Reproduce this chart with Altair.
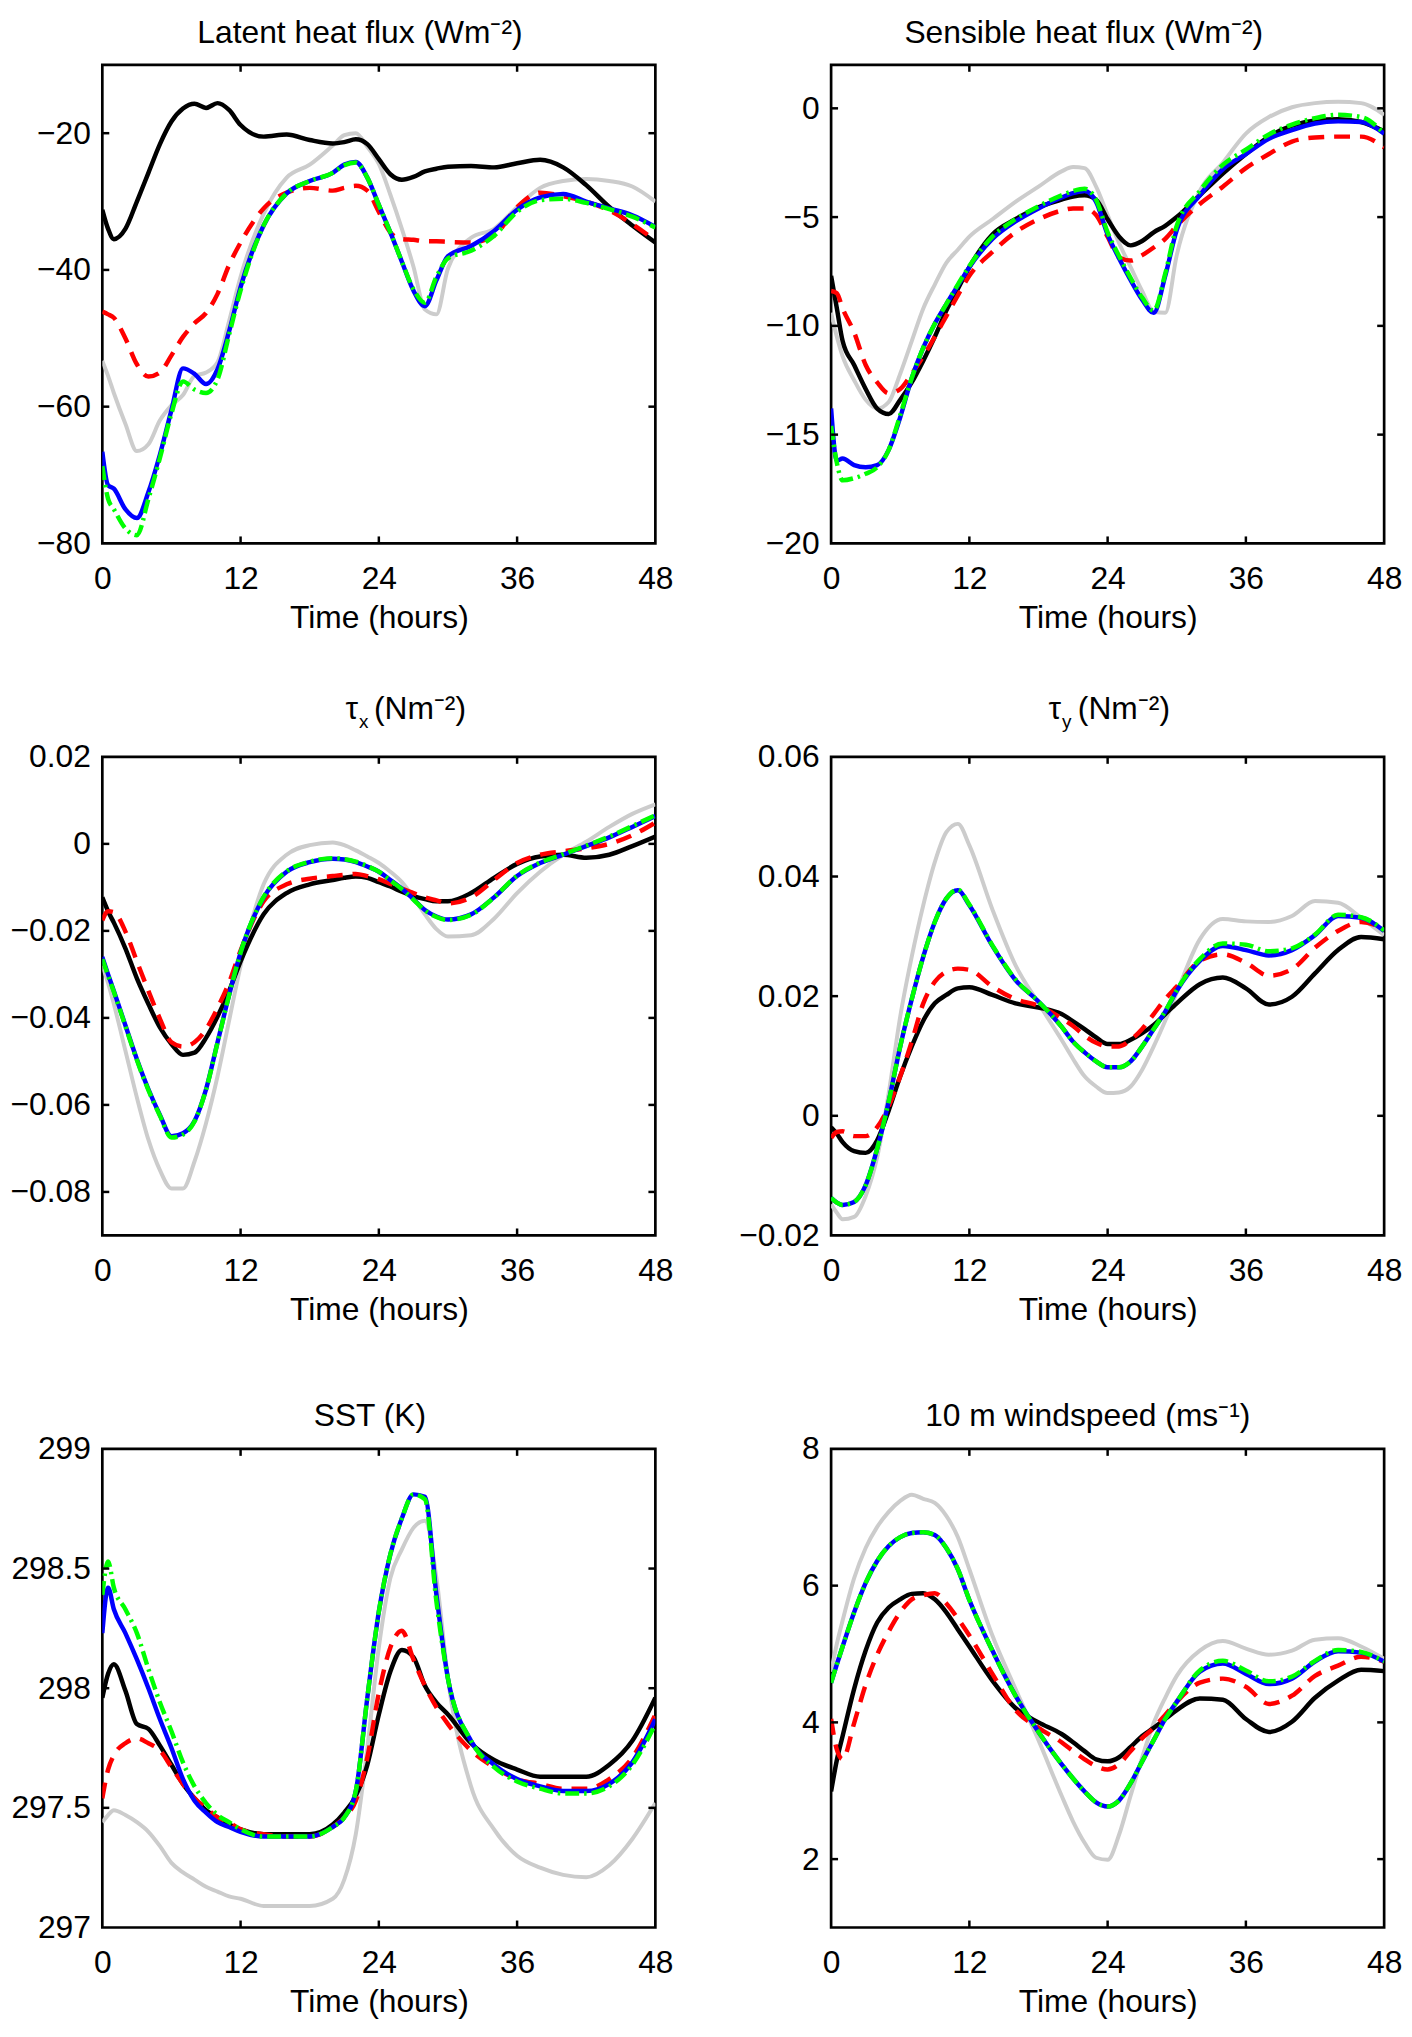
import altair as alt
import pandas as pd

FONT = "Liberation Sans"
W, H = 557, 482
FS = 32

# time grid (hours)
T = [0, 0.5, 1, 2, 3, 4, 5, 6, 7, 8, 9, 10, 11, 12, 14, 16, 18, 20,
     21, 22, 23, 24, 25, 26, 27, 28, 29, 30, 32, 34, 36, 38, 40, 42, 44, 46, 48]
XTICKS = [0, 12, 24, 36, 48]

# ---------------- Latent heat flux ----------------
lat_black = [-31.2, -34.0, -35.5, -34.0, -30.0, -25.8, -21.6, -18.3, -16.4, -15.7, -16.3, -15.6, -16.6, -18.8,
             -20.5, -20.2, -21.0, -21.5,
             -21.3, -20.9, -21.6, -23.8, -26.0, -26.8, -26.4, -25.6, -25.2, -24.9,
             -24.8, -25.0, -24.4, -23.9, -25.0, -27.6, -30.8, -33.5, -36.0]
lat_grey = [-53.3, -55.5, -58.0, -62.5, -66.5, -65.5, -62.0, -59.8, -58.3, -55.5, -55.0, -53.5, -47.5, -41.0,
            -31.8, -26.5, -24.6, -21.8,
            -20.3, -20.0, -22.0, -24.5, -29.0, -34.0, -39.5, -45.8, -46.5, -39.8,
            -35.3, -34.0, -30.8, -28.0, -27.0, -26.7, -27.0, -27.8, -30.0]
lat_red = [-46.1, -46.5, -47.0, -50.0, -53.8, -55.6, -55.0, -52.5, -49.8, -47.8, -46.3, -43.5, -39.3, -36.0,
           -31.0, -28.7, -28.0, -28.4,
           -28.0, -27.7, -28.4, -31.5, -34.5, -35.5, -35.6, -35.8, -35.8, -35.9,
           -36.0, -35.0, -30.8, -28.7, -29.2, -30.0, -31.3, -33.3, -35.7]
lat_blue = [-66.6, -71.5, -72.0, -75.0, -76.3, -72.5, -67.0, -60.5, -54.4, -55.2, -56.7, -54.5, -49.0, -42.5,
            -33.5, -28.8, -27.0, -25.8,
            -24.6, -24.2, -26.5, -30.5, -34.5, -38.8, -43.0, -45.3, -41.5, -38.0,
            -36.5, -34.3, -31.2, -29.4, -28.9, -30.0, -31.0, -32.0, -33.7]
lat_green = [-68.7, -73.5, -75.0, -77.8, -78.8, -73.5, -67.5, -61.0, -56.3, -57.5, -58.0, -56.0, -49.5, -43.0,
             -33.5, -28.8, -27.0, -25.8,
             -24.7, -24.3, -26.5, -30.5, -34.5, -38.8, -42.8, -44.8, -41.0, -38.3,
             -37.2, -35.0, -31.5, -29.8, -29.6, -30.2, -31.1, -32.2, -33.8]

# ---------------- Sensible heat flux ----------------
sen_black = [-7.7, -9.2, -10.7, -11.8, -12.9, -13.8, -14.05, -13.4, -12.6, -11.6, -10.5, -9.3, -8.3, -7.3,
             -5.8, -5.1, -4.55, -4.2,
             -4.05, -4.0, -4.2, -5.1, -5.9, -6.3, -6.1, -5.7, -5.4, -5.0,
             -4.0, -3.0, -2.1, -1.3, -0.8, -0.56, -0.5, -0.63, -1.06]
sen_grey = [-9.4, -10.5, -11.4, -12.5, -13.4, -13.8, -13.5, -12.2, -10.7, -9.2, -8.1, -7.1, -6.5, -5.9,
            -5.1, -4.3, -3.6, -2.9,
            -2.7, -2.75, -3.6, -4.9, -6.2, -7.3, -8.4, -9.35, -9.4, -6.75,
            -3.8, -2.5, -1.16, -0.4, 0.05, 0.24, 0.3, 0.24, -0.3]
sen_red = [-8.4, -8.5, -9.2, -10.3, -11.8, -12.6, -13.1, -12.9, -12.2, -11.4, -10.5, -9.55, -8.6, -7.7,
           -6.6, -5.7, -5.1, -4.7,
           -4.6, -4.6, -4.9, -5.9, -6.85, -7.0, -6.75, -6.4, -6.0, -5.4,
           -4.4, -3.6, -2.75, -2.1, -1.53, -1.34, -1.3, -1.3, -1.8]
sen_blue = [-13.8, -16.2, -16.1, -16.4, -16.5, -16.4, -15.7, -14.2, -12.4, -11.0, -9.9, -9.0, -8.15, -7.3,
            -6.0, -5.2, -4.6, -4.1,
            -3.9, -3.8, -4.3, -5.8, -6.9, -7.9, -8.8, -9.4, -7.7, -5.6,
            -4.0, -2.8, -2.1, -1.4, -1.0, -0.7, -0.6, -0.63, -1.16]
sen_green = [-14.6, -16.3, -17.1, -17.0, -16.8, -16.5, -15.7, -14.1, -12.4, -11.0, -9.9, -9.0, -8.1, -7.25,
             -5.9, -5.1, -4.5, -4.0,
             -3.8, -3.7, -4.2, -5.7, -6.8, -7.8, -8.7, -9.3, -7.6, -5.4,
             -3.8, -2.6, -1.9, -1.2, -0.75, -0.45, -0.3, -0.4, -1.16]

# ---------------- tau_x ----------------
tx_black = [-0.0123, -0.0155, -0.0181, -0.0240, -0.0309, -0.0368, -0.0422, -0.0460, -0.0485, -0.0480, -0.0446, -0.0397, -0.0338, -0.0270,
            -0.0162, -0.0113, -0.0093, -0.0083,
            -0.0078, -0.0075, -0.0078, -0.0088, -0.0098, -0.0110, -0.0120, -0.0127, -0.0132, -0.0132,
            -0.0113, -0.0078, -0.0046, -0.0029, -0.0025, -0.0032, -0.0025, -0.0005, 0.0017]
tx_grey = [-0.0280, -0.0320, -0.0368, -0.0475, -0.0583, -0.0680, -0.0750, -0.0792, -0.0792, -0.0730, -0.0642, -0.0534, -0.0407, -0.0280,
           -0.0093, -0.0025, -0.0003, 0.0003,
           -0.0003, -0.0015, -0.0029, -0.0044, -0.0064, -0.0088, -0.0123, -0.0162, -0.0196, -0.0213,
           -0.0210, -0.0172, -0.0113, -0.0064, -0.0025, 0.0005, 0.0039, 0.0069, 0.0091]
tx_red = [-0.0176, -0.0155, -0.0157, -0.0201, -0.0270, -0.0338, -0.0402, -0.0456, -0.0466, -0.0456, -0.0426, -0.0377, -0.0319, -0.0245,
          -0.0132, -0.0093, -0.0080, -0.0074,
          -0.0071, -0.0069, -0.0074, -0.0081, -0.0092, -0.0103, -0.0113, -0.0123, -0.0130, -0.0137,
          -0.0123, -0.0083, -0.0044, -0.0025, -0.0017, -0.0010, 0.0000, 0.0020, 0.0049]
tx_blue = [-0.0260, -0.0300, -0.0338, -0.0417, -0.0495, -0.0564, -0.0623, -0.0672, -0.0665, -0.0637, -0.0564, -0.0456, -0.0348, -0.0250,
           -0.0123, -0.0064, -0.0042, -0.0034,
           -0.0036, -0.0042, -0.0052, -0.0064, -0.0083, -0.0103, -0.0127, -0.0152, -0.0167, -0.0174,
           -0.0162, -0.0123, -0.0074, -0.0044, -0.0025, -0.0005, 0.0015, 0.0039, 0.0064]
tx_green = [-0.0265, -0.0303, -0.0340, -0.0419, -0.0497, -0.0566, -0.0625, -0.0675, -0.0668, -0.0638, -0.0565, -0.0457, -0.0348, -0.0250,
            -0.0122, -0.0063, -0.0041, -0.0033,
            -0.0035, -0.0041, -0.0051, -0.0064, -0.0084, -0.0104, -0.0128, -0.0153, -0.0168, -0.0175,
            -0.0163, -0.0123, -0.0073, -0.0043, -0.0024, -0.0004, 0.0017, 0.0041, 0.0066]

# ---------------- tau_y ----------------
ty_black = [-0.0019, -0.0030, -0.0044, -0.0059, -0.0062, -0.0041, 0.0009, 0.0066, 0.0116, 0.0159, 0.0188, 0.0202, 0.0213, 0.0215,
            0.0202, 0.0188, 0.0181, 0.0170,
            0.0158, 0.0145, 0.0131, 0.0120, 0.0120, 0.0127, 0.0138, 0.0152, 0.0170, 0.0188,
            0.0220, 0.0231, 0.0213, 0.0186, 0.0199, 0.0238, 0.0277, 0.0299, 0.0295]
ty_grey = [-0.0148, -0.0162, -0.0173, -0.0169, -0.0134, -0.0069, 0.0038, 0.0166, 0.0266, 0.0352, 0.0424, 0.0474, 0.0488, 0.0452,
           0.0345, 0.0252, 0.0188, 0.0127,
           0.0095, 0.0066, 0.0049, 0.0038, 0.0039, 0.0049, 0.0077, 0.0116, 0.0159, 0.0206,
           0.0295, 0.0329, 0.0325, 0.0324, 0.0334, 0.0359, 0.0356, 0.0331, 0.0302]
ty_red = [-0.0037, -0.0027, -0.0026, -0.0034, -0.0034, -0.0019, 0.0016, 0.0066, 0.0124, 0.0188, 0.0224, 0.0241, 0.0246, 0.0244,
          0.0216, 0.0195, 0.0184, 0.0163,
          0.0150, 0.0134, 0.0122, 0.0116, 0.0116, 0.0127, 0.0145, 0.0170, 0.0195, 0.0216,
          0.0259, 0.0270, 0.0256, 0.0234, 0.0245, 0.0281, 0.0309, 0.0324, 0.0313]
ty_blue = [-0.0137, -0.0145, -0.0149, -0.0144, -0.0116, -0.0055, 0.0024, 0.0116, 0.0195, 0.0266, 0.0324, 0.0363, 0.0377, 0.0352,
           0.0284, 0.0227, 0.0191, 0.0149,
           0.0124, 0.0106, 0.0091, 0.0081, 0.0081, 0.0091, 0.0116, 0.0145, 0.0174, 0.0209,
           0.0259, 0.0284, 0.0277, 0.0268, 0.0277, 0.0302, 0.0334, 0.0331, 0.0309]
ty_green = [-0.0137, -0.0145, -0.0149, -0.0144, -0.0116, -0.0055, 0.0024, 0.0116, 0.0195, 0.0266, 0.0324, 0.0363, 0.0378, 0.0353,
            0.0285, 0.0228, 0.0191, 0.0149,
            0.0124, 0.0106, 0.0091, 0.0081, 0.0081, 0.0091, 0.0116, 0.0145, 0.0175, 0.0210,
            0.0262, 0.0288, 0.0286, 0.0275, 0.0280, 0.0303, 0.0336, 0.0332, 0.0310]

# ---------------- SST ----------------
sst_black = [297.96, 298.06, 298.10, 297.99, 297.85, 297.83, 297.76, 297.68, 297.60, 297.54, 297.49, 297.46, 297.43, 297.41,
             297.39, 297.39, 297.39, 297.43,
             297.48, 297.55, 297.68, 297.89, 298.07, 298.16, 298.13, 298.01, 297.94, 297.89,
             297.77, 297.70, 297.66, 297.63, 297.63, 297.63, 297.68, 297.78, 297.96]
sst_grey = [297.44, 297.47, 297.49, 297.47, 297.44, 297.40, 297.34, 297.27, 297.23, 297.20, 297.17, 297.15, 297.13, 297.12,
            297.09, 297.09, 297.09, 297.12,
            297.20, 297.39, 297.75, 298.17, 298.46, 298.58, 298.67, 298.70, 298.46, 298.04,
            297.59, 297.41, 297.30, 297.25, 297.22, 297.21, 297.26, 297.37, 297.52]
sst_red = [297.54, 297.66, 297.72, 297.77, 297.79, 297.77, 297.74, 297.67, 297.60, 297.54, 297.50, 297.46, 297.44, 297.41,
           297.39, 297.38, 297.38, 297.42,
           297.46, 297.53, 297.71, 297.98, 298.17, 298.24, 298.12, 298.01, 297.92, 297.85,
           297.74, 297.67, 297.62, 297.60, 297.58, 297.58, 297.62, 297.71, 297.89]
sst_blue = [298.23, 298.42, 298.33, 298.23, 298.12, 298.00, 297.87, 297.75, 297.62, 297.53, 297.48, 297.44, 297.42, 297.40,
            297.38, 297.38, 297.38, 297.42,
            297.46, 297.57, 297.96, 298.32, 298.56, 298.71, 298.81, 298.80, 298.39, 298.04,
            297.78, 297.68, 297.62, 297.59, 297.57, 297.57, 297.60, 297.69, 297.87]
sst_green = [298.39, 298.53, 298.42, 298.33, 298.23, 298.08, 297.94, 297.82, 297.69, 297.59, 297.52, 297.47, 297.44, 297.41,
             297.38, 297.38, 297.38, 297.42,
             297.46, 297.57, 297.96, 298.32, 298.56, 298.71, 298.81, 298.79, 298.36, 298.04,
             297.78, 297.67, 297.61, 297.58, 297.56, 297.56, 297.59, 297.68, 297.85]

# ---------------- 10 m windspeed ----------------
ws_black = [2.99, 3.45, 3.80, 4.49, 5.05, 5.46, 5.68, 5.80, 5.88, 5.89, 5.80, 5.61, 5.36, 5.11,
            4.61, 4.21, 4.00, 3.83,
            3.71, 3.58, 3.46, 3.43, 3.49, 3.64, 3.80, 3.92, 4.05, 4.18,
            4.35, 4.33, 4.05, 3.86, 4.01, 4.36, 4.61, 4.77, 4.75]
ws_grey = [4.74, 5.15, 5.49, 6.11, 6.55, 6.86, 7.08, 7.24, 7.33, 7.27, 7.21, 7.02, 6.71, 6.24,
           5.27, 4.49, 3.74, 2.93,
           2.55, 2.24, 2.02, 1.99, 2.36, 2.93, 3.49, 3.99, 4.36, 4.68,
           5.05, 5.19, 5.08, 4.99, 5.05, 5.21, 5.23, 5.11, 4.93]
ws_red = [4.05, 3.60, 3.46, 3.99, 4.55, 4.99, 5.33, 5.61, 5.80, 5.86, 5.89, 5.74, 5.52, 5.27,
          4.71, 4.18, 3.92, 3.71,
          3.58, 3.46, 3.36, 3.31, 3.39, 3.58, 3.77, 3.92, 4.11, 4.30,
          4.58, 4.64, 4.52, 4.27, 4.39, 4.68, 4.83, 4.96, 4.89]
ws_blue = [4.58, 4.85, 5.11, 5.61, 6.04, 6.36, 6.58, 6.71, 6.77, 6.78, 6.74, 6.55, 6.24, 5.79,
           5.05, 4.39, 3.86, 3.39,
           3.18, 2.99, 2.83, 2.77, 2.86, 3.11, 3.43, 3.74, 4.05, 4.30,
           4.74, 4.86, 4.71, 4.56, 4.64, 4.89, 5.04, 5.02, 4.89]
ws_green = [4.58, 4.85, 5.11, 5.61, 6.04, 6.36, 6.58, 6.71, 6.77, 6.78, 6.74, 6.55, 6.24, 5.79,
            5.05, 4.39, 3.86, 3.39,
            3.18, 2.99, 2.83, 2.77, 2.86, 3.11, 3.43, 3.74, 4.05, 4.30,
            4.76, 4.90, 4.76, 4.60, 4.67, 4.90, 5.06, 5.03, 4.89]

# line styles, drawn in this order: (series, colour, width, dash)
STYLES = [
    ("grey", "#cccccc", 4.0, None),
    ("black", "#000000", 4.5, None),
    ("red", "#ff0000", 4.5, [16, 10]),
    ("blue", "#0000ff", 4.5, None),
    ("green", "#00ff00", 4.5, [14, 5, 2.5, 5]),
]

LABEL_EXPR = "format(datum.value, '~g')"


def make_panel(series, ydom, yticks, title_items):
    df = pd.DataFrame({"t": T, **series})
    xscale = alt.Scale(domain=[0, 48], nice=False, zero=False)
    yscale = alt.Scale(domain=ydom, nice=False, zero=False)
    xaxis = alt.Axis(values=XTICKS, labelExpr=LABEL_EXPR, domain=False, ticks=False, tickSize=0,
                     grid=False, labelFlush=False, labelPadding=20, titlePadding=9,
                     labelFontSize=FS, titleFontSize=FS, labelFont=FONT, titleFont=FONT,
                     titleFontWeight="normal", labelColor="black", titleColor="black")
    yaxis = alt.Axis(values=yticks, labelExpr=LABEL_EXPR, domain=False, ticks=False, tickSize=0,
                     grid=False, labelPadding=12, labelFontSize=FS, labelFont=FONT,
                     labelColor="black")
    xenc = alt.X("t:Q", scale=xscale, axis=xaxis, title="Time (hours)")

    layers = []
    for name, color, width, dash in STYLES:
        kw = dict(color=color, strokeWidth=width, clip=True, interpolate="monotone")
        if dash:
            kw["strokeDash"] = dash
        layers.append(
            alt.Chart(df).mark_line(**kw).encode(
                x=xenc, y=alt.Y(f"{name}:Q", scale=yscale, axis=yaxis, title=None)
            )
        )

    # inward-pointing ticks on all four sides
    tick_kw = dict(color="black", strokeWidth=2.5)
    xt = pd.DataFrame({"t": [v for v in XTICKS if 0 < v < 48]})
    yt = pd.DataFrame({"v": [v for v in yticks if ydom[0] < v < ydom[1]]})
    layers.append(alt.Chart(xt).mark_rule(**tick_kw).encode(x=xenc, y=alt.value(H), y2=alt.value(H - 7)))
    layers.append(alt.Chart(xt).mark_rule(**tick_kw).encode(x=xenc, y=alt.value(0), y2=alt.value(7)))
    yenc = alt.Y("v:Q", scale=yscale, axis=yaxis, title=None)
    layers.append(alt.Chart(yt).mark_rule(**tick_kw).encode(y=yenc, x=alt.value(0), x2=alt.value(7)))
    layers.append(alt.Chart(yt).mark_rule(**tick_kw).encode(y=yenc, x=alt.value(W), x2=alt.value(W - 7)))

    # panel title (text pieces, to allow subscripts)
    tdata = alt.Data(values=[{"k": 0}])
    for txt, dx, dy, size, align in title_items:
        layers.append(
            alt.Chart(tdata).mark_text(text=txt, font=FONT, fontSize=size, align=align,
                                       baseline="middle", color="black").encode(
                x=alt.value(W / 2 + dx), y=alt.value(dy)
            )
        )
    return alt.layer(*layers).properties(width=W, height=H)


p1 = make_panel({"black": lat_black, "grey": lat_grey, "red": lat_red, "blue": lat_blue, "green": lat_green},
                [-80, -10], [-80, -60, -40, -20],
                [("Latent heat flux (Wm\u207b\u00b2)", -19, -32, FS, "center")])
p2 = make_panel({"black": sen_black, "grey": sen_grey, "red": sen_red, "blue": sen_blue, "green": sen_green},
                [-20, 2], [-20, -15, -10, -5, 0],
                [("Sensible heat flux (Wm\u207b\u00b2)", -24, -32, FS, "center")])
p3 = make_panel({"black": tx_black, "grey": tx_grey, "red": tx_red, "blue": tx_blue, "green": tx_green},
                [-0.09, 0.02], [-0.08, -0.06, -0.04, -0.02, 0, 0.02],
                [("\u03c4", -21, -48, FS, "right"), ("x", -20, -35, 19, "left"),
                 ("(Nm\u207b\u00b2)", -5, -48, FS, "left")])
p4 = make_panel({"black": ty_black, "grey": ty_grey, "red": ty_red, "blue": ty_blue, "green": ty_green},
                [-0.02, 0.06], [-0.02, 0, 0.02, 0.04, 0.06],
                [("\u03c4", -47, -48, FS, "right"), ("y", -46, -35, 19, "left"),
                 ("(Nm\u207b\u00b2)", -30, -48, FS, "left")])
p5 = make_panel({"black": sst_black, "grey": sst_grey, "red": sst_red, "blue": sst_blue, "green": sst_green},
                [297, 299], [297, 297.5, 298, 298.5, 299],
                [("SST (K)", -9, -33, FS, "center")])
p6 = make_panel({"black": ws_black, "grey": ws_grey, "red": ws_red, "blue": ws_blue, "green": ws_green},
                [1, 8], [2, 4, 6, 8],
                [("10 m windspeed (ms\u207b\u00b9)", -20, -33, FS, "center")])

chart = (
    alt.concat(p1, p2, p3, p4, p5, p6, columns=2,
               spacing={"row": 215, "column": 177}, bounds="flush")
    .properties(padding=0, background="white")
    .configure_view(stroke="black", strokeWidth=2.7)
)

chart.save("out.html", embed_options={"renderer": "svg", "actions": False})
